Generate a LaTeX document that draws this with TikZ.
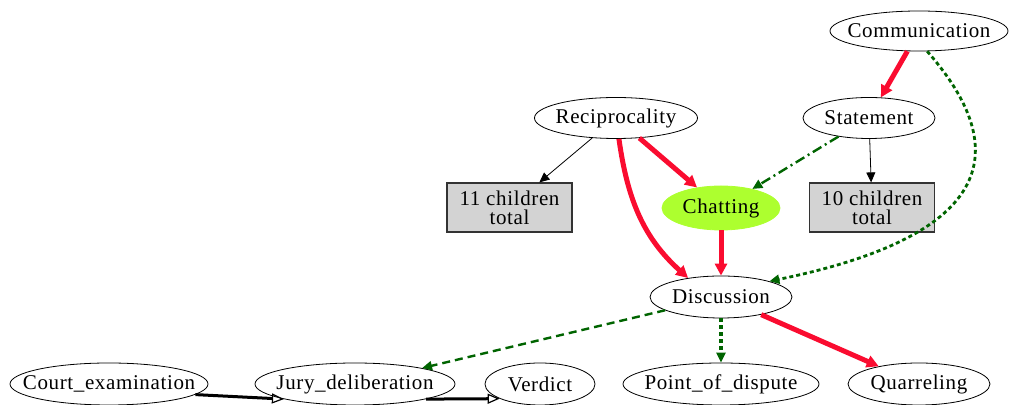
\documentclass[tikz,border=0pt]{standalone}
\usepackage{fontspec}
\setmainfont{Liberation Serif}[LetterSpace=3]
\usetikzlibrary{arrows.meta,shapes.geometric,positioning}
\definecolor{edgered}{RGB}{250,12,48}
\definecolor{edgegreen}{RGB}{0,100,0}
\definecolor{chatfill}{RGB}{173,255,47}
\definecolor{boxgray}{RGB}{211,211,211}
\newcommand{\tx}[1]{\makebox[0pt]{#1}}
\begin{document}
\begin{tikzpicture}[x=0.5pt,y=-0.5pt,font=\fontsize{10.5}{9.5}\selectfont,
  el/.style={ellipse,draw,line width=0.4pt,inner sep=0pt},
  kidbox/.style={rectangle,draw=black!80,line width=0.6pt,fill=boxgray,
    minimum width=62.5pt,minimum height=24.5pt,align=center,inner sep=1pt},
  redarr/.style={draw=edgered,line width=2.5pt,
    -{Triangle[length=6pt,width=6pt]}},
  thinarr/.style={draw=black,line width=0.4pt,
    -{Triangle[length=5pt,width=4.5pt]}},
  greendash/.style={draw=edgegreen,line width=1.2pt,dash pattern=on 4pt off 2.5pt,
    -{Triangle[length=5pt,width=4.5pt]}},
  greendot/.style={draw=edgegreen,line width=1.4pt,dash pattern=on 2pt off 1.5pt,
    -{Triangle[length=5pt,width=4.5pt]}},
  greendashdot/.style={draw=edgegreen,line width=1.2pt,
    dash pattern=on 5pt off 2pt on 1pt off 2pt,
    -{Triangle[length=5pt,width=4.5pt]}},
  blackopen/.style={draw=black,line width=1.5pt,
    -{Triangle[open,length=6pt,width=5pt,line width=0.6pt]}}]
\useasboundingbox (0,0) rectangle (1009,405);
% top of the graph
\node[el,minimum width=89pt,minimum height=20pt] (comm) at (919,31) {\tx{Communication}};
\node[el,minimum width=66pt,minimum height=20.5pt] (stmt) at (869,118) {\tx{Statement}};
\node[el,minimum width=81.5pt,minimum height=20.5pt] (recip) at (616,118) {\tx{Reciprocality}};
\node[kidbox] (kids11) at (509.5,207.5) {11 children\\total};
\node[kidbox] (kids10) at (872,207.5) {10 children\\total};
\node[el,draw=chatfill,fill=chatfill,minimum width=59pt,minimum height=22pt] (chat) at (721,208) {\tx{Chatting}};
\node[el,minimum width=71pt,minimum height=21pt] (disc) at (721,297) {\tx{Discussion}};
% bottom row
\node[el,minimum width=99pt,minimum height=21pt] (court) at (109,384) {\tx{Court\_examination}};
\node[el,minimum width=100pt,minimum height=21pt] (jury) at (355,384) {\tx{Jury\_deliberation}};
\node[el,minimum width=55pt,minimum height=21pt] (verdict) at (540,384) {\tx{Verdict}};
\node[el,minimum width=98pt,minimum height=21pt] (dispute) at (721,384) {\tx{Point\_of\_dispute}};
\node[el,minimum width=71pt,minimum height=21pt] (quarrel) at (919,384) {\tx{Quarreling}};
% edges
\draw[redarr] (comm) -- (stmt);
\draw[greendot] (comm.-68) .. controls (1005,140) and (1010,232) .. (disc.18);
\draw[thinarr] (stmt) -- (kids10);
\draw[greendashdot] (stmt) -- (chat);
\draw[thinarr] (recip) -- (kids11);
\draw[redarr] (recip) -- (chat);
\draw[redarr] (recip.-82) to[out=-82,in=138] (disc.150);
\draw[redarr] (chat) -- (disc);
\draw[greendash] (disc) -- (jury);
\draw[greendot,line width=2pt] (disc) -- (dispute);
\draw[redarr] (disc) -- (quarrel);
\draw[blackopen] (court.-7) -- (jury.-168);
\draw[blackopen] (jury.-12) -- (verdict.-160);
\end{tikzpicture}
\end{document}
